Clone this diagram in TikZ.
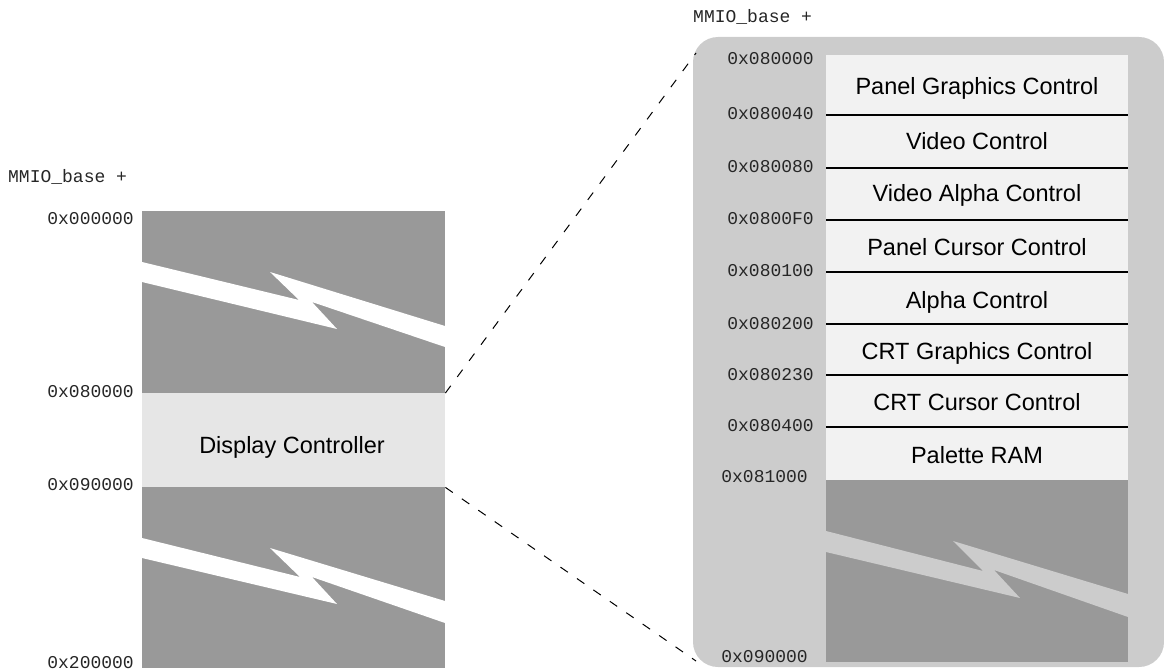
\documentclass[tikz,border=0pt]{standalone}
\usepackage{fontspec}
\setmainfont{Liberation Sans}
\newfontfamily\addrfont{Liberation Mono}
\definecolor{blockgray}{HTML}{999999}
\definecolor{dcgray}{HTML}{E6E6E6}
\definecolor{panelgray}{HTML}{CCCCCC}
\definecolor{cellwhite}{HTML}{F2F2F2}
\tikzset{
  addr/.style={font=\addrfont\fontsize{18}{18}\selectfont, inner sep=0pt, text=black!85},
  sect/.style={font=\fontsize{23.5}{24}\selectfont, inner sep=0pt, anchor=base},
  sepline/.style={line width=2pt, black},
  zoomline/.style={line width=1pt, dash pattern=on 9pt off 11pt}
}
\begin{document}
\begin{tikzpicture}[x=1pt, y=-1pt]
\useasboundingbox (0,0) rectangle (1164,671);
% ---------- left memory map ----------
\fill[blockgray] (142,211) rectangle (445,393);
\fill[white] (142,262) -- (299,300) -- (270,272) -- (445,326) -- (445,347) -- (312,302) -- (337,329) -- (142,282) -- cycle;
\node[fill=dcgray, minimum width=303pt, minimum height=94pt, inner sep=0pt, anchor=north west] (dc) at (142,393) {};
\node[sect] (dctext) at (292,453.3) {Display Controller};
\fill[blockgray] (142,487) rectangle (445,668);
\fill[white] (142,538) -- (300,577) -- (270,548) -- (445,601) -- (445,623) -- (312,577) -- (337,604) -- (142,558) -- cycle;
\node[addr, anchor=base west] (lbase) at (8,183) {MMIO\_base +};
\node[addr, anchor=base east] (l0) at (134,224.5) {0x000000};
\node[addr, anchor=base east] (l1) at (134,397) {0x080000};
\node[addr, anchor=base east] (l2) at (134,490.5) {0x090000};
\node[addr, anchor=base east] (l3) at (134,668) {0x200000};
% ---------- right detail panel ----------
\fill[panelgray, rounded corners=25pt] (693,37) rectangle (1164,667);
\fill[cellwhite] (826,55) rectangle (1128,480);
\fill[blockgray] (826,480) rectangle (1128,662);
\fill[panelgray] (826,531) -- (983,571) -- (953,541) -- (1128,594) -- (1128,617) -- (994,570) -- (1020,598) -- (826,552) -- cycle;
\foreach \yy in {115,168,220,272,324,375,427} {
  \draw[sepline] (826,\yy) -- (1128,\yy);
}
\node[sect] (s1) at (977,95) {Panel Graphics Control};
\node[sect] (s2) at (977,149.3) {Video Control};
\node[sect] (s3) at (977,201.7) {Video Alpha Control};
\node[sect] (s4) at (977,255) {Panel Cursor Control};
\node[sect] (s5) at (977,308.3) {Alpha Control};
\node[sect] (s6) at (977,359.3) {CRT Graphics Control};
\node[sect] (s7) at (977,410) {CRT Cursor Control};
\node[sect] (s8) at (977,463.3) {Palette RAM};
\node[addr, anchor=base west] (rbase) at (693,23) {MMIO\_base +};
\node[addr, anchor=base east] (r0) at (814,64.5) {0x080000};
\node[addr, anchor=base east] (r1) at (814,119.5) {0x080040};
\node[addr, anchor=base east] (r2) at (814,172.5) {0x080080};
\node[addr, anchor=base east] (r3) at (814,224.5) {0x0800F0};
\node[addr, anchor=base east] (r4) at (814,276) {0x080100};
\node[addr, anchor=base east] (r5) at (814,329) {0x080200};
\node[addr, anchor=base east] (r6) at (814,380) {0x080230};
\node[addr, anchor=base east] (r7) at (814,431) {0x080400};
\node[addr, anchor=base east] (r8) at (808,482.5) {0x081000};
\node[addr, anchor=base east] (r9) at (808,662.5) {0x090000};
% ---------- zoom connectors ----------
\coordinate (tcorner) at (696,53);
\coordinate (bcorner) at (696,661);
\draw[zoomline] (dc.north east) -- (tcorner);
\draw[zoomline] (dc.south east) -- (bcorner);
\end{tikzpicture}
\end{document}
